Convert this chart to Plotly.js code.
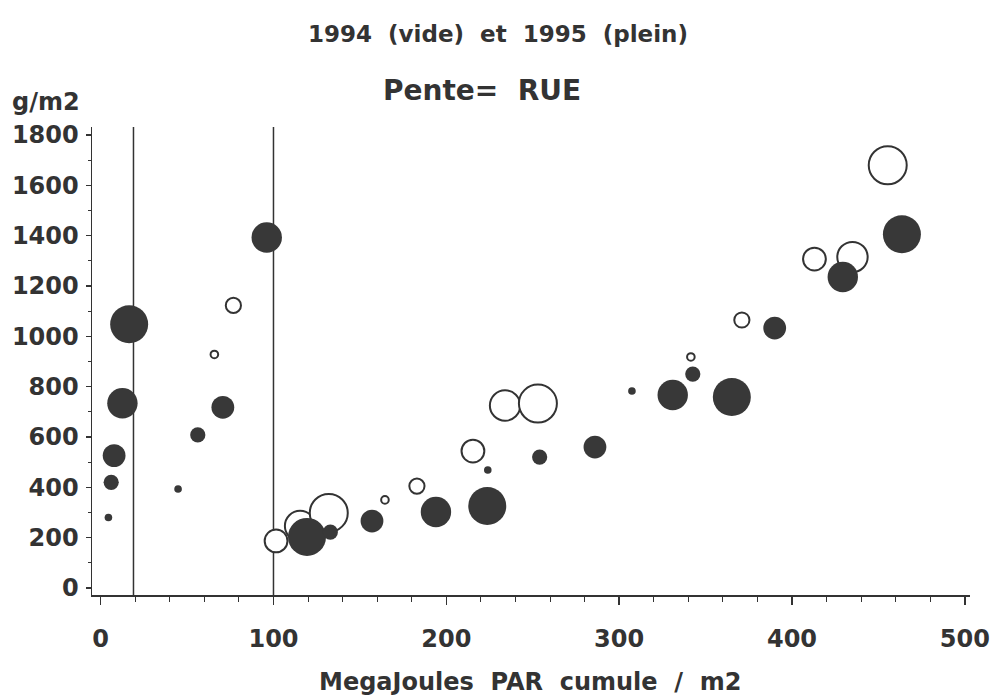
<!DOCTYPE html>
<html>
<head>
<meta charset="utf-8">
<script src="https://cdn.plot.ly/plotly-3.0.1.min.js"></script>
<style>html,body{margin:0;padding:0;background:#fff;}#chart{width:992px;height:699px;}</style>
</head>
<body>
<div id="chart"></div>
<script>
// Data
const x1994 = [65.8, 76.8, 101.5, 115.4, 132, 164.5, 183, 215.4, 234, 253, 341.5, 371, 413, 435, 455.4];
const y1994 = [928, 1123, 187, 246, 298, 350, 405, 544, 725, 733, 918, 1065, 1307, 1315, 1680];
const c1994 = [1, 2, 3, 4, 5, 1, 2, 3, 4, 5, 1, 2, 3, 4, 5];

const x1995 = [4.5, 6.1, 7.8, 12.6, 16.5, 44.8, 56.2, 70.7, 96.1, 119.4, 132.9, 157, 194, 223.7, 224, 254, 286, 307.4, 331, 342.6, 365.2, 390, 429.4, 463.6];
const y1995 = [280, 420, 526, 734, 1048, 393, 608, 718, 1393, 203, 222, 266, 302, 326, 469, 520, 560, 783, 767, 850, 759, 1033, 1236, 1406];
const c1995 = [1, 2, 3, 4, 5, 1, 2, 3, 4, 5, 2, 3, 4, 5, 1, 2, 3, 1, 4, 2, 5, 3, 4, 5];

const verticales = [19, 100];
const xTicks = [0, 100, 200, 300, 400, 500];
const yTicks = [0, 200, 400, 600, 800, 1000, 1200, 1400, 1600, 1800];

const ink = '#333333';
const FONT = 'DejaVu Sans';
const sref = 1 / 7.6;

const traces = [
  {
    type: 'scatter', mode: 'markers', name: '1994 (vide)',
    x: x1994, y: y1994,
    marker: { size: c1994, sizemode: 'diameter', sizeref: sref, color: '#ffffff', opacity: 1,
              line: { color: ink, width: 2 } },
    hoverinfo: 'x+y'
  },
  {
    type: 'scatter', mode: 'markers', name: '1995 (plein)',
    x: x1995, y: y1995,
    marker: { size: c1995, sizemode: 'diameter', sizeref: sref, color: '#383838', opacity: 1,
              line: { width: 0 } },
    hoverinfo: 'x+y'
  }
];

const shapes = verticales.map(v => ({
  type: 'line', xref: 'x', yref: 'paper', x0: v, x1: v, y0: 0, y1: 1,
  line: { color: ink, width: 1.5 }, layer: 'below'
}));

const layout = {
  width: 992, height: 699,
  paper_bgcolor: '#ffffff', plot_bgcolor: '#ffffff',
  showlegend: false,
  margin: { l: 92, r: 22, t: 127, b: 104 },
  font: { family: FONT, color: ink },
  title: {
    text: '<b>1994&nbsp;&nbsp;(vide)&nbsp;&nbsp;et&nbsp;&nbsp;1995&nbsp;&nbsp;(plein)</b>',
    font: { family: FONT, size: 23, color: ink },
    x: 498 / 992, xanchor: 'center', xref: 'container',
    y: 1 - 34 / 699, yanchor: 'middle', yref: 'container'
  },
  xaxis: {
    range: [-5, 503], showgrid: false, zeroline: false,
    showline: true, linecolor: ink, linewidth: 1.5,
    tickmode: 'array', tickvals: xTicks, ticktext: xTicks.map(String),
    ticks: 'outside', ticklen: 8, tickwidth: 1.5, tickcolor: ink,
    minor: { dtick: 20, ticks: 'outside', ticklen: 5, tickwidth: 1, tickcolor: ink, showgrid: false },
    tickfont: { family: FONT, size: 24, color: ink, weight: 'bold' },
    ticklabelstandoff: 14
  },
  yaxis: {
    range: [-28, 1832], showgrid: false, zeroline: false,
    showline: true, linecolor: ink, linewidth: 1.5,
    tickmode: 'array', tickvals: yTicks, ticktext: yTicks.map(String),
    ticks: 'outside', ticklen: 5, tickwidth: 1.5, tickcolor: ink,
    minor: { dtick: 100, ticks: 'outside', ticklen: 3, tickwidth: 1, tickcolor: ink, showgrid: false },
    tickfont: { family: FONT, size: 24, color: ink, weight: 'bold' },
    ticklabelstandoff: 2
  },
  shapes: shapes,
  annotations: [
    { text: '<b>Pente=&nbsp;&nbsp;RUE</b>', xref: 'paper', yref: 'paper',
      x: (482 - 92) / 878, y: (595 - 90) / 468, xanchor: 'center', yanchor: 'middle',
      showarrow: false, font: { family: FONT, size: 28, color: ink } },
    { text: '<b>g/m2</b>', xref: 'paper', yref: 'paper',
      x: (10 - 92) / 878, y: (595 - 102) / 468, xanchor: 'left', yanchor: 'middle',
      showarrow: false, font: { family: FONT, size: 24, color: ink } },
    { text: '<b>MegaJoules&nbsp;&nbsp;PAR&nbsp;&nbsp;cumule&nbsp;&nbsp;/&nbsp;&nbsp;m2</b>', xref: 'paper', yref: 'paper',
      x: (530 - 92) / 878, y: (595 - 682) / 468, xanchor: 'center', yanchor: 'middle',
      showarrow: false, font: { family: FONT, size: 24, color: ink } }
  ]
};

Plotly.newPlot('chart', traces, layout, { displayModeBar: false, staticPlot: true });
</script>
</body>
</html>
